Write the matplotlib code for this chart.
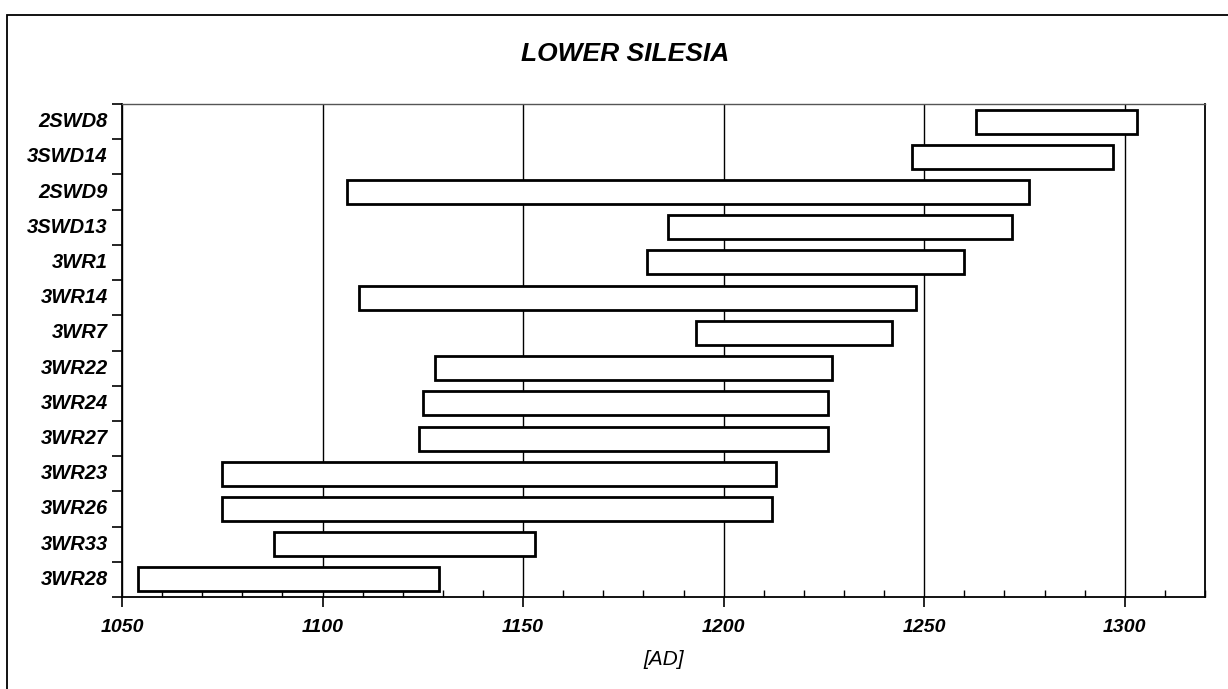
import matplotlib
matplotlib.use("Agg")
import matplotlib.pyplot as plt
from matplotlib.patches import Rectangle
from matplotlib.ticker import MultipleLocator
import numpy as np

plt.rcParams['font.family'] = ['Liberation Sans', 'DejaVu Sans']

samples = ["2SWD8", "3SWD14", "2SWD9", "3SWD13", "3WR1", "3WR14", "3WR7",
           "3WR22", "3WR24", "3WR27", "3WR23", "3WR26", "3WR33", "3WR28"]
start_years = [1263, 1247, 1106, 1186, 1181, 1109, 1193,
               1128, 1125, 1124, 1075, 1075, 1088, 1054]
end_years = [1303, 1297, 1276, 1272, 1260, 1248, 1242,
             1227, 1226, 1226, 1213, 1212, 1153, 1129]
title_text = "LOWER SILESIA"
x_label = "[AD]"
x_ticks = [1050, 1100, 1150, 1200, 1250, 1300]

fig = plt.figure(figsize=(12.28, 6.89), dpi=100)
ax = fig.add_axes([122/1228, 1-597/689, (1205-122)/1228, (597-104)/689])

n = len(samples)
ypos = np.arange(n)[::-1]
widths = np.array(end_years) - np.array(start_years)
ax.barh(ypos, widths, left=start_years, height=0.68, color='white',
        edgecolor='black', linewidth=2.0, zorder=3)

ax.set_xlim(1050, 1320)
ax.set_ylim(-0.5, n - 0.5)

ax.set_xticks(x_ticks)
ax.set_xticklabels([str(t) for t in x_ticks], fontsize=14,
                   fontweight='bold', fontstyle='italic')
ax.xaxis.set_minor_locator(MultipleLocator(10))
ax.tick_params(axis='x', which='major', direction='out', length=7, width=1.2, pad=9)
ax.tick_params(axis='x', which='minor', direction='in', length=5, width=1.0)
ax.grid(axis='x', which='major', color='black', linewidth=1.0, zorder=1)

ax.set_yticks(np.arange(-0.5, n, 1.0))
ax.set_yticklabels([])
ax.tick_params(axis='y', which='major', direction='out', length=7, width=1.2)
for y, name in zip(ypos, samples):
    ax.text(-0.013, y, name, transform=ax.get_yaxis_transform(), ha='right', va='center',
            fontsize=14.5, fontweight='bold', fontstyle='italic')

for side in ['left', 'bottom', 'right']:
    ax.spines[side].set_linewidth(1.3)
    ax.spines[side].set_color('black')
ax.spines['top'].set_linewidth(1.0)
ax.spines['top'].set_color('#555555')

ax.set_xlabel(x_label, fontsize=15, fontstyle='italic', labelpad=10)
fig.text(625/1228, 1 - 54/689, title_text, ha='center', va='center',
         fontsize=19, fontweight='bold', fontstyle='italic')

# outer figure frame
fig.patches.append(Rectangle((7/1228, -0.1), 1.2, 1 - 15/689 + 0.1, transform=fig.transFigure,
                             fill=False, edgecolor='black', linewidth=1.3))

fig.savefig("out.png", dpi=100)
